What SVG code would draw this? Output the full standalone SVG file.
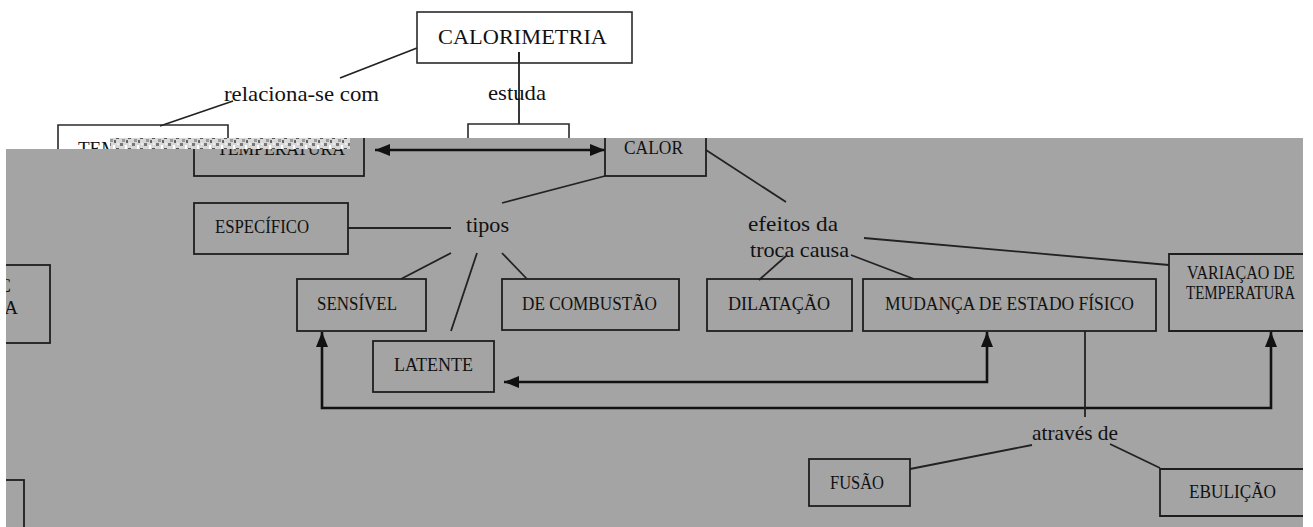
<svg xmlns="http://www.w3.org/2000/svg" width="1313" height="527" viewBox="0 0 1313 527">
<style>
.bw{fill:none;stroke:#2a2a2a;stroke-width:1.6}
.bg{fill:none;stroke:#1e1e1e;stroke-width:1.8}
.ln{fill:none;stroke:#222;stroke-width:1.8}
.ar{fill:none;stroke:#111;stroke-width:2.6}
.t{font-family:"Liberation Serif","Times New Roman",serif;fill:#111}
.big{font-size:22px}
.box{font-size:19px}
</style>
<defs>
<marker id="ah" viewBox="0 0 15 12" markerWidth="15" markerHeight="12" refX="15" refY="6" orient="auto-start-reverse" markerUnits="userSpaceOnUse">
<path d="M0,0 L15,6 L0,12 z" fill="#111"/>
</marker>
<clipPath id="greyClip">
<path d="M6,149 H350 V138 H1303 V527 H6 Z"/>
</clipPath>
<clipPath id="topClip"><rect x="0" y="0" width="110" height="149"/></clipPath>
<pattern id="noise" width="12" height="11" patternUnits="userSpaceOnUse">
<rect width="12" height="11" fill="#d8d8d8"/>
<rect x="0" y="0" width="3" height="3" fill="#777"/>
<rect x="5" y="2" width="2" height="4" fill="#fff"/>
<rect x="8" y="5" width="3" height="2" fill="#555"/>
<rect x="2" y="7" width="3" height="3" fill="#999"/>
<rect x="9" y="0" width="2" height="2" fill="#eee"/>
<rect x="6" y="8" width="2" height="3" fill="#666"/>
</pattern>
</defs>
<rect width="1313" height="527" fill="#ffffff"/>

<g id="white-layer">
<g id="connectors-top">
<line class="ln" x1="417" y1="48" x2="340" y2="78"/>
<line class="ln" x1="233" y1="101" x2="160" y2="126"/>
<line class="ln" x1="519" y1="52" x2="519" y2="124"/>
</g>
<g id="node-calorimetria">
<rect class="bw" x="417" y="12" width="215" height="51" fill="#fff"/>
<line class="ln" x1="519" y1="52" x2="519" y2="63"/>
<text class="t big" x="522.5" y="44" text-anchor="middle" textLength="169" lengthAdjust="spacingAndGlyphs">CALORIMETRIA</text>
</g>
<g id="label-relaciona"><text class="t big" x="224" y="101" textLength="155" lengthAdjust="spacingAndGlyphs">relaciona-se com</text></g>
<g id="label-estuda"><text class="t big" x="488" y="100" textLength="58" lengthAdjust="spacingAndGlyphs">estuda</text></g>
<g id="node-tem-white">
<path class="bw" d="M58,149 V125 H228 V149"/>
<text class="t box" x="78" y="155" clip-path="url(#topClip)">TEM</text>
</g>
<g id="node-calor-white">
<path class="bw" d="M468,138 V124 H569 V138"/>
</g>
</g>

<path d="M6,149 H350 V138 H1303 V527 H6 Z" fill="#a4a4a4"/>
<rect x="110" y="138" width="240" height="11" fill="url(#noise)"/>

<g id="grey-layer" clip-path="url(#greyClip)">
<g id="connectors">
<line class="ar" x1="375" y1="150" x2="605" y2="150" marker-start="url(#ah)" marker-end="url(#ah)"/>
<line class="ln" x1="605" y1="176" x2="502" y2="203"/>
<line class="ln" x1="706" y1="150" x2="786" y2="202"/>
<line class="ln" x1="348" y1="228" x2="451" y2="228"/>
<line class="ln" x1="451" y1="253" x2="401" y2="279"/>
<line class="ln" x1="477" y1="253" x2="451" y2="331"/>
<line class="ln" x1="502" y1="253" x2="527" y2="279"/>
<line class="ln" x1="786" y1="256" x2="759" y2="280"/>
<line class="ln" x1="851" y1="255" x2="914" y2="279"/>
<line class="ln" x1="864" y1="238" x2="1169" y2="265"/>
<path class="ar" d="M987,332 V382 H504" marker-start="url(#ah)" marker-end="url(#ah)"/>
<path class="ar" d="M322,332 V408 H1271 V332" marker-start="url(#ah)" marker-end="url(#ah)"/>
<line class="ln" x1="1085" y1="331" x2="1085" y2="417"/>
<line class="ln" x1="1032" y1="445" x2="910" y2="469"/>
<line class="ln" x1="1110" y1="444" x2="1160" y2="468"/>
</g>

<g id="node-temperatura">
<rect class="bg" x="194" y="124" width="170" height="52"/>
<text class="t box" x="217" y="155" textLength="128" lengthAdjust="spacingAndGlyphs">TEMPERATURA</text>
</g>
<g id="node-calor">
<rect class="bg" x="605" y="124" width="101" height="52"/>
<text class="t box" x="624" y="154" textLength="59" lengthAdjust="spacingAndGlyphs">CALOR</text>
</g>
<g id="node-left-partial">
<rect class="bg" x="-40" y="265" width="90" height="78"/>
<text class="t box" x="11" y="292" text-anchor="end">C</text>
<text class="t box" x="18" y="314" text-anchor="end">A</text>
</g>
<g id="node-bottom-left-partial">
<rect class="bg" x="-40" y="480" width="64" height="70"/>
</g>
</g>

<g id="grey-nodes">
<g id="label-tipos"><text class="t big" x="466" y="232" textLength="43" lengthAdjust="spacingAndGlyphs">tipos</text></g>
<g id="node-especifico">
<rect class="bg" x="194" y="203" width="154" height="51"/>
<text class="t box" x="215" y="233" textLength="94" lengthAdjust="spacingAndGlyphs">ESPECÍFICO</text>
</g>
<g id="node-sensivel">
<rect class="bg" x="297" y="279" width="129" height="52"/>
<text class="t box" x="317" y="310" textLength="80" lengthAdjust="spacingAndGlyphs">SENSÍVEL</text>
</g>
<g id="node-combustao">
<rect class="bg" x="502" y="279" width="177" height="51"/>
<text class="t box" x="522" y="310" textLength="135" lengthAdjust="spacingAndGlyphs">DE COMBUSTÃO</text>
</g>
<g id="node-latente">
<rect class="bg" x="373" y="341" width="121" height="51"/>
<text class="t box" x="394" y="371" textLength="79" lengthAdjust="spacingAndGlyphs">LATENTE</text>
</g>
<g id="label-efeitos">
<text class="t big" x="748" y="231" textLength="90" lengthAdjust="spacingAndGlyphs">efeitos da</text>
<text class="t big" x="750" y="257" textLength="99" lengthAdjust="spacingAndGlyphs">troca causa</text>
</g>
<g id="node-dilatacao">
<rect class="bg" x="707" y="279" width="145" height="52"/>
<text class="t box" x="728" y="310" textLength="102" lengthAdjust="spacingAndGlyphs">DILATAÇÃO</text>
</g>
<g id="node-mudanca">
<rect class="bg" x="863" y="279" width="293" height="52"/>
<text class="t box" x="885" y="310" textLength="249" lengthAdjust="spacingAndGlyphs">MUDANÇA DE ESTADO FÍSICO</text>
</g>
<g id="node-variacao">
<path class="bg" d="M1303,254 H1169 V331 H1303"/>
<text class="t" font-size="16" x="1187" y="279" transform="translate(1187,279) scale(1,1.15) translate(-1187,-279)">VARIAÇAO DE</text>
<text class="t" font-size="15" x="1186" y="299" transform="translate(1186,299) scale(1,1.2) translate(-1186,-299)">TEMPERATURA</text>
</g>
<g id="label-atraves"><text class="t big" x="1032" y="440" textLength="86" lengthAdjust="spacingAndGlyphs">através de</text></g>
<g id="node-fusao">
<rect class="bg" x="809" y="459" width="101" height="47"/>
<text class="t box" x="830" y="489" textLength="54" lengthAdjust="spacingAndGlyphs">FUSÃO</text>
</g>
<g id="node-ebulicao">
<path class="bg" d="M1303,469 H1160 V516 H1303"/>
<text class="t box" x="1189" y="498" textLength="87" lengthAdjust="spacingAndGlyphs">EBULIÇÃO</text>
</g>
</g>
</svg>
